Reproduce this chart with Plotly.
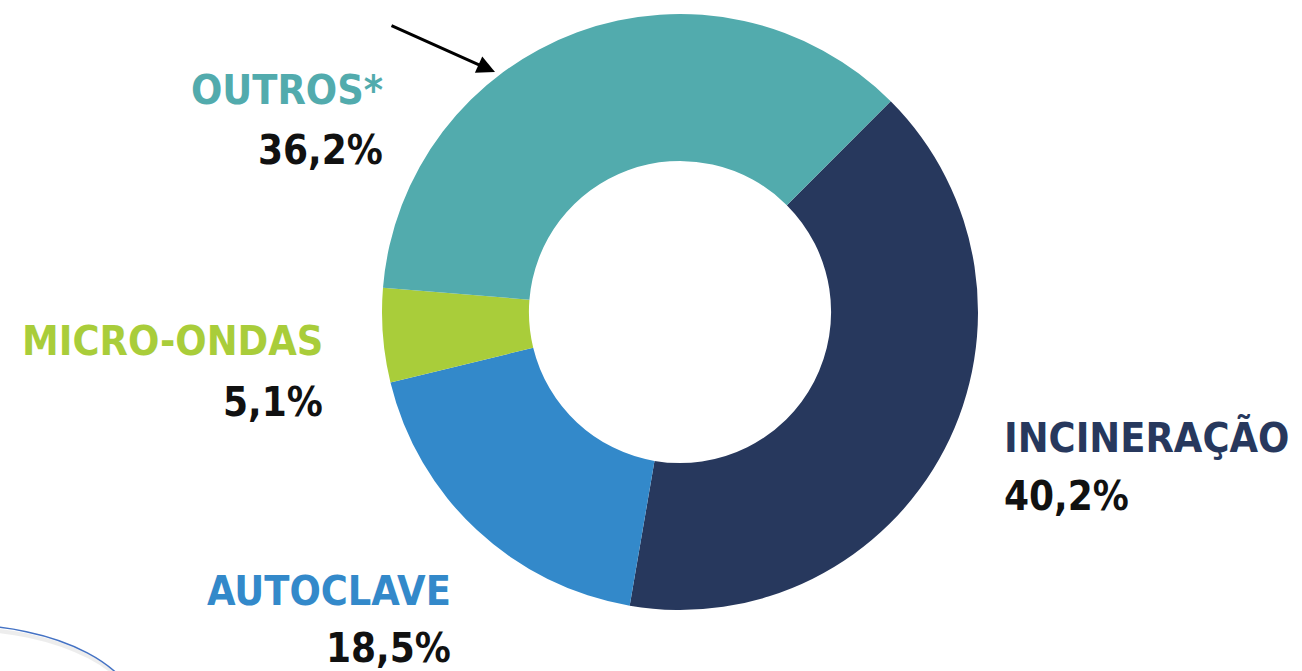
import plotly.graph_objects as go

W, H = 1302, 671

categories = ["INCINERAÇÃO", "AUTOCLAVE", "MICRO-ONDAS", "OUTROS*"]
values = [40.2, 18.5, 5.1, 36.2]
pct_labels = ["40,2%", "18,5%", "5,1%", "36,2%"]
colors = ["#27385D", "#3389CA", "#A9CD3A", "#52ABAD"]


def px(x):
    return x / W


def py(y):
    return 1 - y / H


FONT = "DejaVu Sans Condensed, Liberation Sans Narrow, Roboto, sans-serif"

fig = go.Figure()
fig.add_trace(go.Pie(
    labels=categories,
    values=values,
    marker=dict(colors=colors, line=dict(width=0)),
    hole=0.507,
    sort=False,
    direction="clockwise",
    rotation=45,
    textinfo="none",
    hoverinfo="label+percent",
    showlegend=False,
    domain=dict(x=[px(382), px(978)], y=[py(610), py(14)]),
))

label_pos = {
    "INCINERAÇÃO": (1002, 437, 496, "left"),
    "AUTOCLAVE": (453, 591, 648, "right"),
    "MICRO-ONDAS": (325, 341, 402, "right"),
    "OUTROS*": (385, 90, 150, "right"),
}

annotations = []
for cat, pct, col in zip(categories, pct_labels, colors):
    x, y1, y2, anchor = label_pos[cat]
    annotations.append(dict(
        x=px(x), y=py(y1), xref="paper", yref="paper",
        text=f"<b>{cat}</b>", showarrow=False,
        xanchor=anchor, yanchor="middle",
        font=dict(family=FONT, size=41, color=col),
    ))
    annotations.append(dict(
        x=px(x), y=py(y2), xref="paper", yref="paper",
        text=f"<b>{pct}</b>", showarrow=False,
        xanchor=anchor, yanchor="middle",
        font=dict(family=FONT, size=40, color="#111111"),
    ))

annotations.append(dict(
    x=px(495), y=py(72), xref="paper", yref="paper",
    ax=-105, ay=-47, axref="pixel", ayref="pixel",
    text="", showarrow=True, arrowhead=2, arrowsize=1.2,
    arrowwidth=3, arrowcolor="#000000",
))

shapes = [
    dict(type="circle", xref="paper", yref="paper",
         x0=px(-218), x1=px(142), y0=py(629), y1=py(819),
         line=dict(color="rgba(0,0,0,0.07)", width=4)),
    dict(type="circle", xref="paper", yref="paper",
         x0=px(-220), x1=px(140), y0=py(625), y1=py(815),
         line=dict(color="#4472C4", width=1.5)),
]

fig.update_layout(
    width=W, height=H,
    margin=dict(l=0, r=0, t=0, b=0),
    paper_bgcolor="white",
    plot_bgcolor="white",
    annotations=annotations,
    shapes=shapes,
)

fig.write_html("out.html")
